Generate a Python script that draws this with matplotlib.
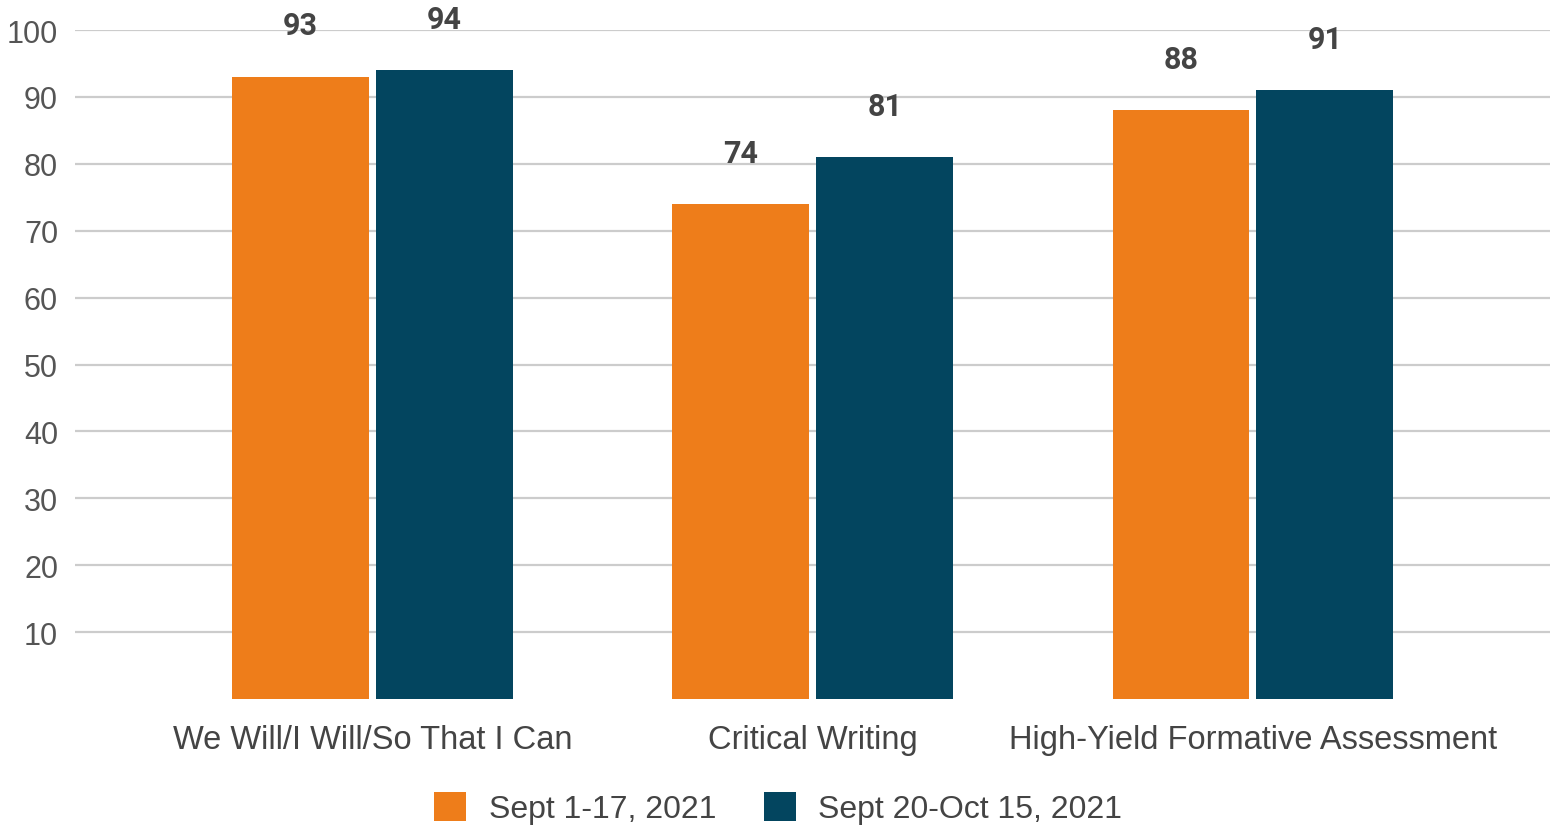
import numpy as np
import matplotlib.pyplot as plt

plt.rcParams['font.family'] = ['Liberation Sans', 'DejaVu Sans']

# data
categories = ['We Will/I Will/So That I Can', 'Critical Writing', 'High-Yield Formative Assessment']
series_names = ['Sept 1-17, 2021', 'Sept 20-Oct 15, 2021']
sept_early = [93, 74, 88]
sept_late = [94, 81, 91]
colors = ['#EE7D1A', '#03455F']

fig = plt.figure(figsize=(15.57, 8.29), dpi=100)
ax = fig.add_axes([0.048, 0.1556, 0.9475, 0.807])

x = np.arange(len(categories))
w = 0.311
gap = 0.008

for vals, off, c, name in [(sept_early, -(w / 2 + gap), colors[0], series_names[0]),
                           (sept_late, (w / 2 + gap), colors[1], series_names[1])]:
    bars = ax.bar(x + off, vals, width=w, color=c, label=name, zorder=3)
    for b, v in zip(bars, vals):
        ax.annotate(str(v), (b.get_x() + b.get_width() / 2, v),
                    xytext=(0, 37), textcoords='offset points',
                    ha='center', va='center', fontsize=22, fontweight='bold',
                    family=['Roboto', 'DejaVu Sans'],
                    color='#444444', clip_on=False, zorder=4)

ax.set_xlim(-0.677, 2.675)
ax.set_ylim(0, 100)
ax.set_yticks(range(10, 101, 10))
ax.set_xticks(x)
ax.set_xticklabels(categories)
ax.tick_params(axis='y', length=0, pad=12, labelsize=22, labelcolor='#555555')
ax.tick_params(axis='x', length=0, pad=18, labelsize=23.5, labelcolor='#444444')
ax.grid(axis='y', color='#cccccc', linewidth=1.6, zorder=0)
for s in ax.spines.values():
    s.set_visible(False)

ax.legend(loc='center', bbox_to_anchor=(0.477, -0.163), ncol=2, frameon=False,
          fontsize=23, labelcolor='#444444', handlelength=1.0, handleheight=1.0,
          handletextpad=0.7, columnspacing=1.5)

fig.savefig('out.png', dpi=100)
